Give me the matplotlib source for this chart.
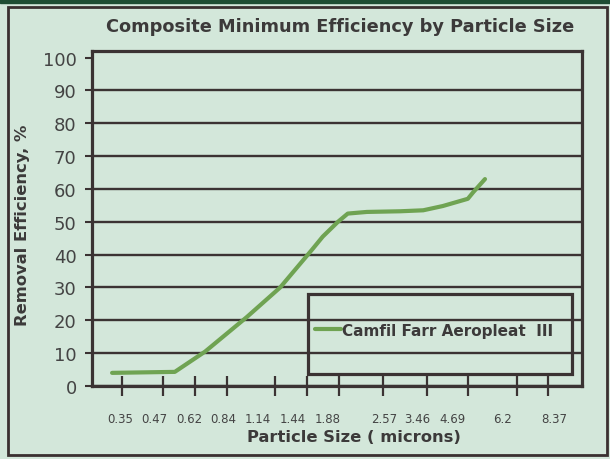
import matplotlib
matplotlib.use("Agg")
import matplotlib.pyplot as plt
from matplotlib.patches import Rectangle

# data (x is position along the axis, 0-100)
curve_pos = [4.1, 16.9, 23.1, 31.6, 38.4, 44.9, 47.1, 50.2, 52.2, 56.1, 62.9, 67.6, 71.6, 76.7, 77.8, 80.2]
curve_eff = [4.0, 4.3, 10.5, 21.0, 30.0, 41.5, 45.5, 50.0, 52.5, 53.0, 53.2, 53.5, 54.8, 57.0, 59.0, 63.0]
series_name = "Camfil Farr Aeropleat  III"

tick_pos = [6.1, 14.5, 21.0, 27.6, 37.3, 43.9, 50.4, 59.4, 68.4, 76.7, 86.7, 93.1]
size_labels = ["0.35", "0.47", "0.62", "0.84", "1.14", "1.44", "1.88", "2.57", "3.46", "4.69", "6.2", "8.37"]
label_pos = [5.7, 12.8, 19.8, 26.8, 33.9, 40.9, 48.0, 59.6, 66.3, 73.5, 83.7, 94.3]
eff_ticks = [0, 10, 20, 30, 40, 50, 60, 70, 80, 90, 100]

bg = "#d3e7da"
ink = "#3b3333"
txt = "#3c3a3a"

fig = plt.figure(figsize=(6.1, 4.6), dpi=100, facecolor=bg)
ax = fig.add_axes([92 / 610, 1 - 387 / 460, 490 / 610, 335 / 460])
ax.set_facecolor(bg)

ax.plot(curve_pos, curve_eff, color="#6fa352", lw=3, solid_capstyle="round",
        label=series_name, zorder=3)

ax.set_xlim(0, 100)
ax.set_ylim(0, 102)

ax.set_yticks(eff_ticks)
ax.tick_params(axis="y", direction="out", length=5, width=1.5, color=ink,
               pad=6, labelsize=13, labelcolor="#444444")
ax.grid(axis="y", color=ink, lw=1.7)
ax.get_ygridlines()[-1].set_visible(False)

ax.set_xticks(tick_pos)
ax.set_xticklabels([])
ax.tick_params(axis="x", which="major", direction="inout", length=15, width=1.6, color=ink)
ax.set_xticks(label_pos, minor=True)
ax.set_xticklabels(size_labels, minor=True)
ax.tick_params(axis="x", which="minor", length=0, pad=19, labelsize=8.5, labelcolor="#444444")

for s in ax.spines.values():
    s.set_color(ink)
    s.set_linewidth(2.3)

leg = ax.legend(loc="center left", bbox_to_anchor=(0.455, 0.167), frameon=False,
                handlelength=1.7, handletextpad=0.1, borderpad=0, borderaxespad=0,
                prop={"weight": "bold", "size": 11})
for t in leg.get_texts():
    t.set_color(txt)
ax.add_patch(Rectangle((0.441, 0.036), 0.539, 0.239, transform=ax.transAxes,
                       fill=False, ec=ink, lw=2.3, zorder=4))

fig.text(340 / 610, 1 - 27 / 460, "Composite Minimum Efficiency by Particle Size",
         ha="center", va="center", fontsize=12.8, fontweight="bold", color=txt)
fig.text(354 / 610, 1 - 438 / 460, "Particle Size ( microns)",
         ha="center", va="center", fontsize=11.8, fontweight="bold", color=txt)
fig.text(23 / 610, 1 - 225 / 460, "Removal Efficiency, %", rotation=90,
         ha="center", va="center", fontsize=11.8, fontweight="bold", color=txt)

# scan border
fig.patches.append(Rectangle((8 / 610, 4 / 460), 599 / 610, 448 / 460,
                             transform=fig.transFigure, fill=False, ec="#3a3030", lw=2))
fig.patches.append(Rectangle((0, 1 - 4 / 460), 1, 4 / 460,
                             transform=fig.transFigure, color="#1e4d33"))

fig.savefig("out.png", dpi=100, facecolor=bg)
